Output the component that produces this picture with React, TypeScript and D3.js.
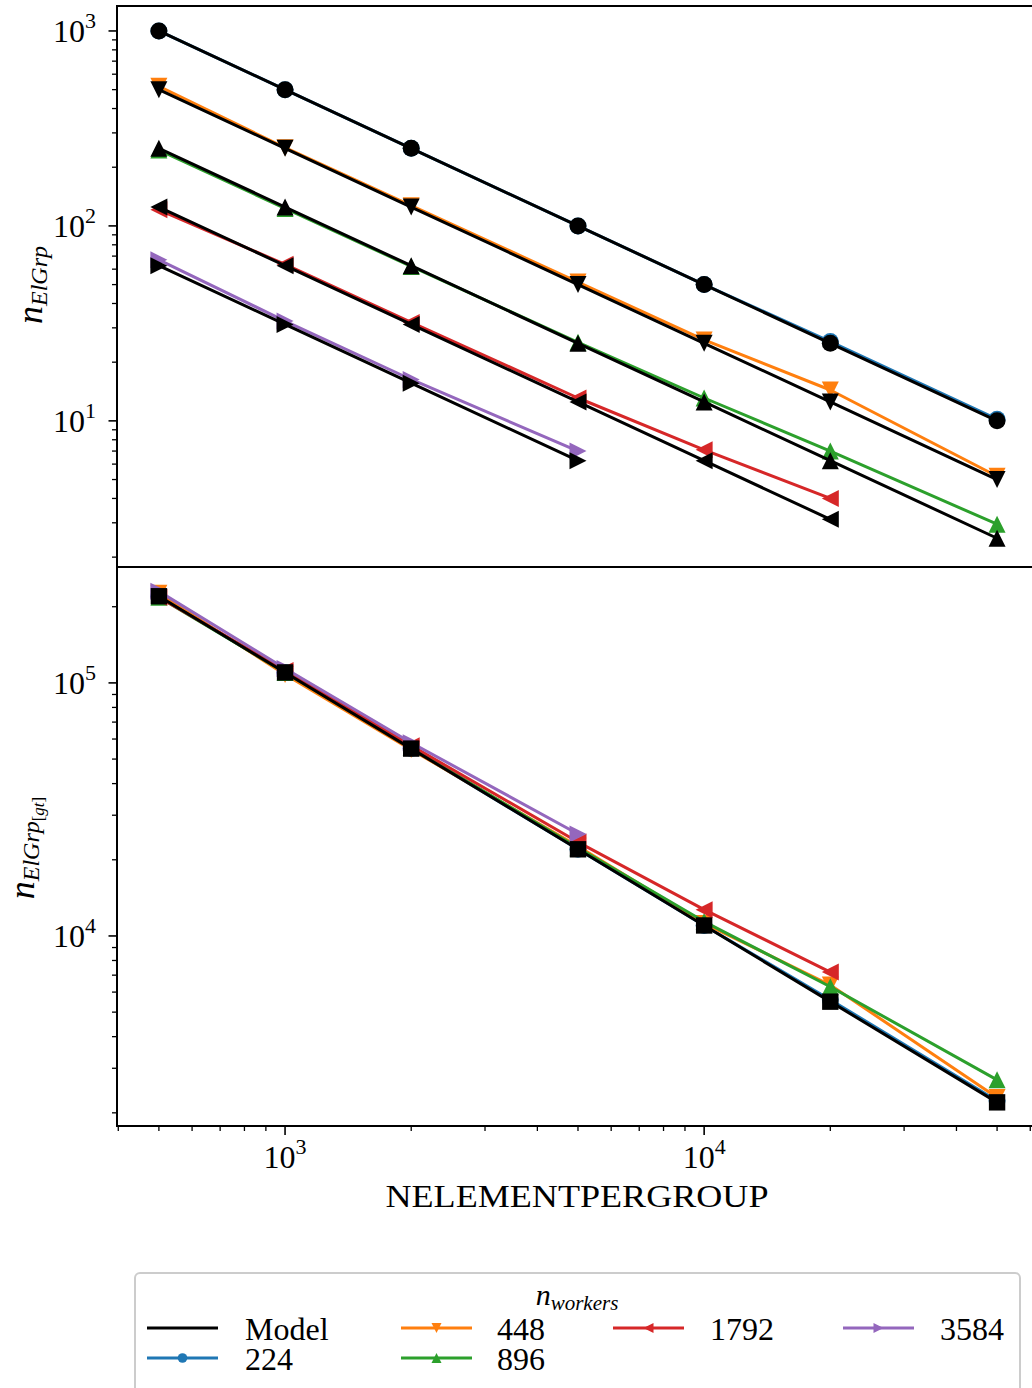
import React from 'react';
import * as d3 from 'd3';

// ---------- data ----------
const nElementPerGroup = [500, 1000, 2000, 5000, 10000, 20000, 50000];
const workerLabels = ['224', '448', '896', '1792', '3584'];
const seriesColors = ['#1f77b4', '#ff7f0e', '#2ca02c', '#d62728', '#9467bd'];
const seriesMarkers = ['circle', 'triDown', 'triUp', 'triLeft', 'triRight'];

// top panel: n_ElGrp (measured)
const elgrp224 = [1000, 500, 250, 100, 50, 25.5, 10.2];
const elgrp448 = [520, 252, 127, 51.5, 26, 14.4, 5.2];
const elgrp896 = [245, 123, 62, 25.3, 13.1, 7.0, 2.95];
const elgrp1792 = [121, 63.5, 32, 13.1, 7.1, 4.0];
const elgrp3584 = [67, 32.5, 16.3, 7.0];

// top panel: model
const model224 = [1000, 500, 250, 100, 50, 25, 10];
const model448 = [500, 250, 125, 50, 25, 12.5, 5];
const model896 = [250, 125, 62.5, 25, 12.5, 6.25, 2.5];
const model1792 = [125, 62.5, 31.25, 12.5, 6.25, 3.125];
const model3584 = [62.5, 31.25, 15.6, 6.25];

// bottom panel: n_ElGrp[gt]
const gt224 = [220000, 110000, 55000, 22000, 11000, 5600, 2230];
const gt448 = [226000, 108000, 54500, 22600, 11200, 6400, 2300];
const gt896 = [218000, 110000, 55500, 22300, 11400, 6300, 2700];
const gt1792 = [218000, 112000, 56500, 23500, 12700, 7200];
const gt3584 = [230000, 114000, 58000, 25300];
const gtModel = [220000, 110000, 55000, 22000, 11000, 5500, 2200];

const topData = [elgrp224, elgrp448, elgrp896, elgrp1792, elgrp3584];
const topModels = [model224, model448, model896, model1792, model3584];
const bottomData = [gt224, gt448, gt896, gt1792, gt3584];

const xMajorTicks = [1000, 10000];
const topMajorTicks = [10, 100, 1000];
const bottomMajorTicks = [10000, 100000];

// ---------- layout ----------
const W = 1032;
const H = 1388;
const left = 117;
const right = 1039;
const topY0 = 6;
const midY = 567;
const botY1 = 1126;
const FONT = '"Liberation Serif", "Times New Roman", serif';

const x = d3.scaleLog().domain([Math.pow(10, 2.599), Math.pow(10, 4.799)]).range([left, right]);
const yTop = d3.scaleLog().domain([Math.pow(10, 0.2504), Math.pow(10, 3.128)]).range([midY, topY0]);
const yBot = d3.scaleLog().domain([Math.pow(10, 3.249), Math.pow(10, 5.458)]).range([botY1, midY]);

function markerPath(kind: string, h: number): string {
  switch (kind) {
    case 'circle':
      return `M${-h},0A${h},${h} 0 1,0 ${h},0A${h},${h} 0 1,0 ${-h},0Z`;
    case 'triUp':
      return `M0,${-h}L${h},${h}L${-h},${h}Z`;
    case 'triDown':
      return `M0,${h}L${h},${-h}L${-h},${-h}Z`;
    case 'triLeft':
      return `M${-h},0L${h},${-h}L${h},${h}Z`;
    case 'triRight':
      return `M${h},0L${-h},${-h}L${-h},${h}Z`;
    case 'square':
      return `M${-h},${-h}H${h}V${h}H${-h}Z`;
  }
  return '';
}

function minorTicks(domain: number[]): number[] {
  const out: number[] = [];
  const lo = Math.floor(Math.log10(domain[0]));
  const hi = Math.ceil(Math.log10(domain[1]));
  for (let e = lo; e <= hi; e++) {
    for (let m = 2; m <= 9; m++) {
      const v = m * Math.pow(10, e);
      if (v >= domain[0] && v <= domain[1]) out.push(v);
    }
  }
  return out;
}

function Series({ vals, y, color, marker, width = 3, ms = 8.5 }: any) {
  const pts = vals.map((v: number, i: number) => [x(nElementPerGroup[i]), y(v)] as [number, number]);
  const line = d3.line()(pts) || '';
  return (
    <g>
      <path d={line} fill="none" stroke={color} strokeWidth={width} strokeLinejoin="round" />
      {pts.map((p: [number, number], i: number) => (
        <path key={i} d={markerPath(marker, ms)} transform={`translate(${p[0]},${p[1]})`} fill={color} />
      ))}
    </g>
  );
}

function YAxis({ y, majors, y0, y1 }: any) {
  const dom = y.domain();
  return (
    <g>
      {minorTicks(dom).map((v: number, i: number) => (
        <line key={'m' + i} x1={left - 5} x2={left} y1={y(v)} y2={y(v)} stroke="#000" strokeWidth={1.3} />
      ))}
      {majors.map((v: number, i: number) => (
        <g key={'M' + i}>
          <line x1={left - 8.5} x2={left} y1={y(v)} y2={y(v)} stroke="#000" strokeWidth={1.6} />
          <text x={96} y={y(v) + 11} textAnchor="end" fontFamily={FONT} fontSize={32} fill="#000">
            10
            <tspan fontSize={22} dy={-14}>{Math.round(Math.log10(v))}</tspan>
          </text>
        </g>
      ))}
    </g>
  );
}

export default function App() {
  const legendCols = [
    { hx: 147, tx: 245 },
    { hx: 401, tx: 497 },
    { hx: 613, tx: 710 },
    { hx: 843, tx: 940 },
  ];
  const legendItems = [
    { label: 'Model', color: '#000', marker: null as string | null, col: 0, row: 0 },
    { label: workerLabels[0], color: seriesColors[0], marker: seriesMarkers[0], col: 0, row: 1 },
    { label: workerLabels[1], color: seriesColors[1], marker: seriesMarkers[1], col: 1, row: 0 },
    { label: workerLabels[2], color: seriesColors[2], marker: seriesMarkers[2], col: 1, row: 1 },
    { label: workerLabels[3], color: seriesColors[3], marker: seriesMarkers[3], col: 2, row: 0 },
    { label: workerLabels[4], color: seriesColors[4], marker: seriesMarkers[4], col: 3, row: 0 },
  ];
  const rowY = [1328, 1358];

  return (
    <svg width={W} height={H} style={{ position: 'absolute', left: 0, top: 0, background: '#fff' }}>
      <defs>
        <clipPath id="clipTop">
          <rect x={left} y={topY0} width={right - left} height={midY - topY0} />
        </clipPath>
        <clipPath id="clipBot">
          <rect x={left} y={midY} width={right - left} height={botY1 - midY} />
        </clipPath>
      </defs>
      <rect x={0} y={0} width={W} height={H} fill="#fff" />

      {/* top panel */}
      <g clipPath="url(#clipTop)">
        {topData.map((vals, i) => (
          <Series key={'d' + i} vals={vals} y={yTop} color={seriesColors[i]} marker={seriesMarkers[i]} />
        ))}
        {topModels.map((vals, i) => (
          <Series key={'m' + i} vals={vals} y={yTop} color="#000" marker={seriesMarkers[i]} />
        ))}
      </g>

      {/* bottom panel */}
      <g clipPath="url(#clipBot)">
        {bottomData.map((vals, i) => (
          <Series key={'d' + i} vals={vals} y={yBot} color={seriesColors[i]} marker={seriesMarkers[i]} />
        ))}
        <Series vals={gtModel} y={yBot} color="#000" marker="square" ms={8.2} />
      </g>

      {/* spines */}
      <line x1={left} x2={left} y1={topY0} y2={botY1} stroke="#000" strokeWidth={2} />
      <line x1={right} x2={right} y1={topY0} y2={botY1} stroke="#000" strokeWidth={2} />
      <line x1={left - 1} x2={right} y1={topY0} y2={topY0} stroke="#000" strokeWidth={2} />
      <line x1={left - 1} x2={right} y1={midY} y2={midY} stroke="#000" strokeWidth={2} />
      <line x1={left - 1} x2={right} y1={botY1} y2={botY1} stroke="#000" strokeWidth={2} />

      <YAxis y={yTop} majors={topMajorTicks} />
      <YAxis y={yBot} majors={bottomMajorTicks} />

      {/* x axis */}
      {minorTicks(x.domain()).map((v, i) => (
        <line key={'xm' + i} x1={x(v)} x2={x(v)} y1={botY1} y2={botY1 + 5} stroke="#000" strokeWidth={1.3} />
      ))}
      {xMajorTicks.map((v, i) => (
        <g key={'xM' + i}>
          <line x1={x(v)} x2={x(v)} y1={botY1} y2={botY1 + 9} stroke="#000" strokeWidth={1.6} />
          <text x={x(v)} y={1168} textAnchor="middle" fontFamily={FONT} fontSize={32} fill="#000">
            10
            <tspan fontSize={22} dy={-14}>{Math.round(Math.log10(v))}</tspan>
          </text>
        </g>
      ))}
      <text x={577} y={1207} textAnchor="middle" fontFamily={FONT} fontSize={32} textLength={383} lengthAdjust="spacingAndGlyphs" fill="#000">
        NELEMENTPERGROUP
      </text>

      {/* y labels */}
      <text transform="translate(42,285) rotate(-90)" textAnchor="middle" fontFamily={FONT} fill="#000">
        <tspan fontSize={36} fontStyle="italic">n</tspan>
        <tspan fontSize={24} fontStyle="italic" dy={5}>ElGrp</tspan>
      </text>
      <text transform="translate(34,848) rotate(-90)" textAnchor="middle" fontFamily={FONT} fill="#000">
        <tspan fontSize={36} fontStyle="italic">n</tspan>
        <tspan fontSize={24} fontStyle="italic" dy={5}>ElGrp</tspan>
        <tspan fontSize={17} dy={5}>[</tspan>
        <tspan fontSize={17} fontStyle="italic">gt</tspan>
        <tspan fontSize={17}>]</tspan>
      </text>

      {/* legend */}
      <rect x={135} y={1273} width={885} height={130} rx={5} fill="#fff" stroke="#cccccc" strokeWidth={2} />
      <text x={577} y={1305} textAnchor="middle" fontFamily={FONT} fill="#000">
        <tspan fontSize={30} fontStyle="italic">n</tspan>
        <tspan fontSize={21} fontStyle="italic" dy={5}>workers</tspan>
      </text>
      {legendItems.map((it, i) => {
        const c = legendCols[it.col];
        const yy = rowY[it.row];
        return (
          <g key={'lg' + i}>
            <line x1={c.hx} x2={c.hx + 71} y1={yy} y2={yy} stroke={it.color} strokeWidth={3} />
            {it.marker && (
              <path d={markerPath(it.marker, it.marker === 'circle' ? 4.8 : 5)} transform={`translate(${c.hx + 35.5},${yy})`} fill={it.color} />
            )}
            <text x={c.tx} y={yy + 12} fontFamily={FONT} fontSize={32} fill="#000">
              {it.label}
            </text>
          </g>
        );
      })}
    </svg>
  );
}
